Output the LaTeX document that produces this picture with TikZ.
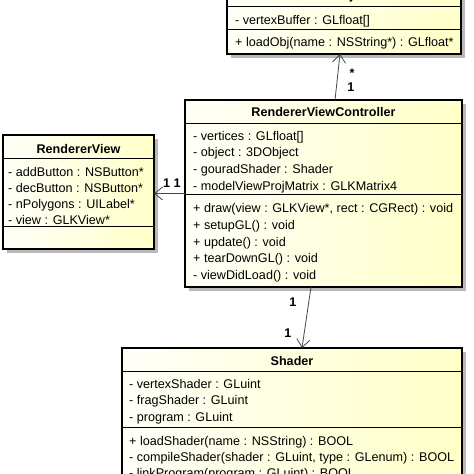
\documentclass[tikz,border=0pt]{standalone}
\usepackage{fontspec}
\setmainfont{Liberation Sans}
\usetikzlibrary{arrows.meta}
\definecolor{boxyel}{RGB}{255,255,200}
\definecolor{boxwhite}{RGB}{255,255,248}
\definecolor{shadowgray}{RGB}{185,185,185}
\definecolor{assocgray}{RGB}{70,70,70}
\tikzset{
  umlbox/.style={rectangle, draw=black, line width=1.2pt, left color=boxwhite, right color=boxyel, inner sep=0pt, outer sep=0pt},
  umlshadow/.style={rectangle, fill=shadowgray, draw=none, inner sep=0pt, outer sep=0pt},
  sepline/.style={draw=black, line width=1pt},
  member/.style={anchor=base west, inner sep=0pt, font=\fontsize{12.6}{16}\selectfont},
  title/.style={anchor=base, inner sep=0pt, font=\fontsize{12.6}{16}\selectfont\bfseries},
  mult/.style={anchor=base, inner sep=0pt, font=\fontsize{12.6}{16}\selectfont\bfseries},
  assoc/.style={draw=assocgray, line width=0.8pt, -{Straight Barb[length=8pt,width=13pt,line width=0.8pt]}},
}
\begin{document}
\begin{tikzpicture}[x=1pt,y=-1pt]
\useasboundingbox (0,0) rectangle (474,474);
% shadows
\node[umlshadow, minimum width=234pt, minimum height=71pt] (objsh) at (348,22.5) {};
\node[umlshadow, minimum width=277pt, minimum height=187pt] (rvcsh) at (327.5,197.5) {};
\node[umlshadow, minimum width=151pt, minimum height=114pt] (rvsh) at (82.5,196) {};
\node[umlshadow, minimum width=340pt, minimum height=172pt] (shsh) at (296,438) {};
% boxes
\node[umlbox, minimum width=234pt, minimum height=71pt] (obj) at (344,18.5) {};
\node[umlbox, minimum width=277pt, minimum height=187pt] (rvc) at (323.5,193.5) {};
\node[umlbox, minimum width=151pt, minimum height=114pt] (rv) at (78.5,192) {};
\node[umlbox, minimum width=340pt, minimum height=172pt] (sh) at (292,434) {};
% separators
\draw[sepline] (obj.west |- 0,6) -- (obj.east |- 0,6);
\draw[sepline] (obj.west |- 0,29) -- (obj.east |- 0,29);
\draw[sepline] (rvc.west |- 0,123) -- (rvc.east |- 0,123);
\draw[sepline] (rvc.west |- 0,194) -- (rvc.east |- 0,194);
\draw[sepline] (rv.west |- 0,158) -- (rv.east |- 0,158);
\draw[sepline] (rv.west |- 0,226) -- (rv.east |- 0,226);
\draw[sepline] (sh.west |- 0,371) -- (sh.east |- 0,371);
\draw[sepline] (sh.west |- 0,427) -- (sh.east |- 0,427);
% 3DObject
\node[title] (objt) at (344,-1) {3DObject};
\node[member] (obja1) at (235,24.5) {- vertexBuffer : GLfloat[]};
\node[member] (objo1) at (235,46.5) {+ loadObj(name : NSString*) : GLfloat*};
% RendererViewController
\node[title] (rvct) at (323.5,116) {RendererViewController};
\node[member] (rvca1) at (193,140) {- vertices : GLfloat[]};
\node[member] (rvca2) at (193,156.7) {- object : 3DObject};
\node[member] (rvca3) at (193,173.4) {- gouradShader : Shader};
\node[member] (rvca4) at (193,190.1) {- modelViewProjMatrix : GLKMatrix4};
\node[member] (rvco1) at (193,212.8) {+ draw(view : GLKView*, rect : CGRect) : void};
\node[member] (rvco2) at (193,229.5) {+ setupGL() : void};
\node[member] (rvco3) at (193,246.2) {+ update() : void};
\node[member] (rvco4) at (193,262.9) {+ tearDownGL() : void};
\node[member] (rvco5) at (193,279.6) {- viewDidLoad() : void};
% RendererView
\node[title] (rvt) at (78.5,153.5) {RendererView};
\node[member] (rva1) at (8,176.2) {- addButton : NSButton*};
\node[member] (rva2) at (8,192.4) {- decButton : NSButton*};
\node[member] (rva3) at (8,208.6) {- nPolygons : UILabel*};
\node[member] (rva4) at (8,224.8) {- view : GLKView*};
% Shader
\node[title] (sht) at (292,365.2) {Shader};
\node[member] (sha1) at (129,388.5) {- vertexShader : GLuint};
\node[member] (sha2) at (129,404.8) {- fragShader : GLuint};
\node[member] (sha3) at (129,421.1) {- program : GLuint};
\node[member] (sho1) at (129,445.5) {+ loadShader(name : NSString) : BOOL};
\node[member] (sho2) at (129,461.5) {- compileShader(shader : GLuint, type : GLenum) : BOOL};
\node[member] (sho3) at (129,477.5) {- linkProgram(program : GLuint) : BOOL};
% associations
\draw[assoc] ([xshift=11.5pt]rvc.north) -- ([xshift=-4pt]obj.south);
\draw[assoc] (rvc.west) -- (rv.east |- rvc.west);
\draw[assoc] ([xshift=-12.5pt]rvc.south) -- ([xshift=10pt]sh.north);
% multiplicities
\node[mult] (m1) at (352,77) {*};
\node[mult] (m2) at (351,91) {1};
\node[mult] (m3) at (172,187) {1 1};
\node[mult] (m4) at (293,306) {1};
\node[mult] (m5) at (288,337) {1};
\end{tikzpicture}
\end{document}
